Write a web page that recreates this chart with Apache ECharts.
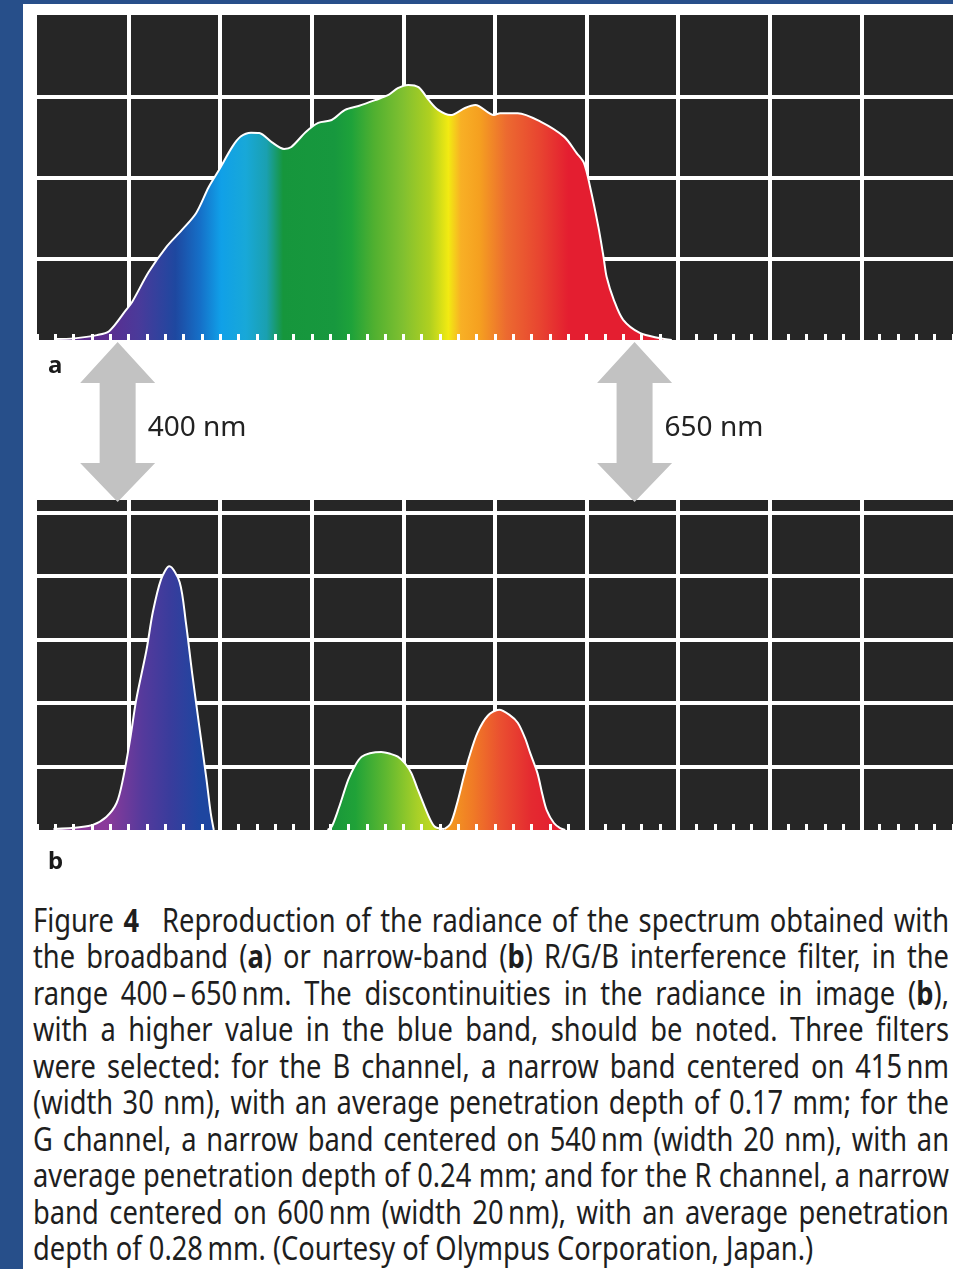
<!DOCTYPE html>
<html>
<head>
<meta charset="utf-8">
<script src="https://cdn.jsdelivr.net/npm/echarts@6/dist/echarts.min.js"></script>
<style>
html,body{margin:0;padding:0;width:953px;height:1269px;overflow:hidden;background:#274f8a;}
#paper{position:absolute;left:23px;top:4px;right:0;bottom:0;background:#fff;}
#chart{position:absolute;left:0;top:0;width:953px;height:890px;}
#caption{position:absolute;left:33px;top:902px;width:3000px;white-space:nowrap;font-family:'Noto Sans',sans-serif;font-size:32px;line-height:36.45px;color:#1e1e1e;transform-origin:0 0;}
#caption .ln{text-align:left;}
#caption.just .ln{text-align:justify;text-align-last:justify;}
#caption.just .ln.last{text-align-last:left;}
#caption b{font-weight:700;}
</style>
</head>
<body>
<div id="paper"></div>
<div id="chart"></div>
<div id="caption">
<div class="ln"><span>Figure <b>4</b>&ensp; Reproduction of the radiance of the spectrum obtained with</span></div>
<div class="ln"><span>the broadband (<b>a</b>) or narrow-band (<b>b</b>) R/G/B interference filter, in the</span></div>
<div class="ln"><span>range 400&#8201;–&#8201;650&#8201;nm. The discontinuities in the radiance in image (<b>b</b>),</span></div>
<div class="ln"><span>with a higher value in the blue band, should be noted. Three filters</span></div>
<div class="ln"><span>were selected: for the B channel, a narrow band centered on 415&#8201;nm</span></div>
<div class="ln"><span>(width 30 nm), with an average penetration depth of 0.17 mm; for the</span></div>
<div class="ln"><span>G channel, a narrow band centered on 540&#8201;nm (width 20 nm), with an</span></div>
<div class="ln"><span>average penetration depth of 0.24 mm; and for the R channel, a narrow</span></div>
<div class="ln"><span>band centered on 600&#8201;nm (width 20&#8201;nm), with an average penetration</span></div>
<div class="ln last"><span>depth of 0.28&#8201;mm. (Courtesy of Olympus Corporation, Japan.)</span></div>
</div>
<script>
// ---------- data ----------
// Panel a: broadband spectrum (wavelength nm, relative radiance)
const A_NM  = [369.5,379,390,396,404,407,415,423.5,431,438,444,449,455.5,459.5,464.5,468.5,474.5,480.5,484,491,497,503.5,510,516.5,524.5,531,535.5,540.5,545.5,550.5,555,561,568,573,582,585,593.5,604.5,616,622,625.5,628.5,632.5,635,636.5,640,644.5,652.5,662,668];
const A_VAL = [0.3,0.5,1.5,2.8,9.2,11.7,20.9,28.6,33.8,39.1,47,52.3,59.5,62.6,63.8,63.7,60.9,58.8,59.4,64,66.8,67.7,70.8,72,73.8,75.4,77.5,78.5,77.8,73.8,70.8,69.2,71.4,72.3,69.2,69.8,69.8,67.2,62.5,57.5,54.5,47.1,34.8,25.5,19.4,12.3,6.2,2.2,0.6,0];
// Panel b: narrow-band B / G / R
const B_NM  = [369,381.5,388,394.5,399.5,402.5,406,409,414,417,421,425,430,433,436,439.5,443,445,446.5];
const B_VAL = [0.3,0.9,1.6,4.1,8.5,15.8,28.4,41.1,56.9,68.6,79,83.1,78.1,65.4,49.6,32.6,15.8,5.4,0];
const G_NM  = [501.5,503.5,507,511.5,515,518,522,527.5,532,535.5,539,542,545,548.5,551,553.5,558];
const G_VAL = [0,1,7,15.8,20.5,23.1,24.2,24.6,24,23.1,21,18,13,7.3,3.5,1,0.3];
const R_NM  = [558,561,564,567.5,570,574,579,584.5,589.5,593.5,597,599.5,603,605.5,607.5,611,614,616.5];
const R_VAL = [0.3,2,8,17,23,30.6,36,37.9,36.3,33.8,29,24.3,18,11,6.3,2.2,0.6,0];
// Annotated wavelengths
const ARROW_NM = [400, 650];
const ARROW_LABELS = ['400 nm', '650 nm'];
const PANEL_LABELS = ['a', 'b'];

// ---------- colour palettes (style) ----------
const SPEC_PAL_NM  = [380,395,410,428,440,450,462,472,480,505,513,524,538,551,560,566,575,588,604,618,680];
const SPEC_PAL_COL = ['#5a2a8a','#5c2d90','#4a3a9a','#1e48a0','#1570c8','#10a0e8','#18a8d8','#1aa0b0','#16963c','#17983e','#1ea23a','#50b030','#80c030','#b0d020','#f2ea12','#f8b025','#f5a020','#ec6a30','#e84530','#e41e30','#e41e30'];
const BLUE_PAL_NM  = [395,412,425,440];
const BLUE_PAL_COL = ['#8a3a9a','#553a9c','#3a3c9c','#1e46a0'];
const GREEN_PAL_NM = [503,515,530,545,555];
const GREEN_PAL_COL= ['#18963a','#20a238','#60b830','#a8d028','#c8dc20'];
const RED_PAL_NM   = [560,572,585,600,612];
const RED_PAL_COL  = ['#f39a20','#f07a26','#ea5030','#e42a30','#e41e30'];

function hexToRgb(h){return [parseInt(h.slice(1,3),16),parseInt(h.slice(3,5),16),parseInt(h.slice(5,7),16)];}
function colorAt(nm, palNm, palCol){
  if (nm <= palNm[0]) return palCol[0];
  for (let i = 1; i < palNm.length; i++) {
    if (nm <= palNm[i]) {
      const t = (nm - palNm[i-1]) / (palNm[i] - palNm[i-1]);
      const a = hexToRgb(palCol[i-1]), b = hexToRgb(palCol[i]);
      return 'rgb(' + a.map((v,k)=>Math.round(v + (b[k]-v)*t)).join(',') + ')';
    }
  }
  return palCol[palCol.length-1];
}
function spectralFill(nmArr, palNm, palCol){
  const lo = nmArr[0], hi = nmArr[nmArr.length-1];
  const stops = [{offset:0, color: colorAt(lo, palNm, palCol)}];
  palNm.forEach((p,i)=>{ if (p > lo && p < hi) stops.push({offset:(p-lo)/(hi-lo), color: palCol[i]}); });
  stops.push({offset:1, color: colorAt(hi, palNm, palCol)});
  return new echarts.graphic.LinearGradient(0,0,1,0,stops);
}
function zip(x,y){return x.map((v,i)=>[v,y[i]]);}

const chart = echarts.init(document.getElementById('chart'), null, {renderer:'canvas'});

const gridOpts = [
  {left:37, top:15, width:921, height:325},
  {left:37, top:500, width:921, height:330}
];
const yMax = [100, 104], yInt = [25, 20];

const xAxes = [], yAxes = [];
gridOpts.forEach((g, gi) => {
  xAxes.push({gridIndex:gi, type:'value', min:361, max:804, show:false});
  xAxes.push({gridIndex:gi, type:'value', min:0, max:10, interval:1, position:'top', z:0,
    axisLine:{show:false}, axisTick:{show:false}, axisLabel:{show:false},
    splitLine:{show:true, showMinLine:false, showMaxLine:false, lineStyle:{color:'#ffffff', width:4}}});
  xAxes.push({gridIndex:gi, type:'value', min:0, max:10, interval:1, position:'bottom', z:5,
    axisLine:{show:false}, axisLabel:{show:false}, splitLine:{show:false},
    axisTick:{show:true, inside:true, length:6, lineStyle:{color:'#ffffff', width:3}},
    minorTick:{show:true, splitNumber:5, length:6, lineStyle:{color:'#ffffff', width:3}}});
  yAxes.push({gridIndex:gi, type:'value', min:0, max:yMax[gi], interval:yInt[gi], z:0,
    axisLine:{show:false}, axisTick:{show:false}, axisLabel:{show:false},
    splitLine:{show:true, showMinLine:false, showMaxLine:false, lineStyle:{color:'#ffffff', width:4}}});
});

function areaSeries(name, xi, yi, nm, val, fill){
  return {name, type:'line', xAxisIndex:xi, yAxisIndex:yi, data:zip(nm,val),
    smooth:0.3, symbol:'none', z:2,
    lineStyle:{color:'#ffffff', width:2},
    areaStyle:{color:fill, opacity:1}};
}

const option = {
  animation:false,
  backgroundColor:'transparent',
  grid: gridOpts.map(g => Object.assign({show:true, backgroundColor:'#262626', borderWidth:0}, g)),
  xAxis: xAxes,
  yAxis: yAxes,
  series: [
    areaSeries('broadband', 0, 0, A_NM, A_VAL, spectralFill(A_NM, SPEC_PAL_NM, SPEC_PAL_COL)),
    areaSeries('B', 3, 1, B_NM, B_VAL, spectralFill(B_NM, BLUE_PAL_NM, BLUE_PAL_COL)),
    areaSeries('G', 3, 1, G_NM, G_VAL, spectralFill(G_NM, GREEN_PAL_NM, GREEN_PAL_COL)),
    areaSeries('R', 3, 1, R_NM, R_VAL, spectralFill(R_NM, RED_PAL_NM, RED_PAL_COL))
  ]
};
chart.setOption(option);

// annotations: double arrows at the given wavelengths
const graphics = [];
ARROW_NM.forEach((nm, i) => {
  const cx = chart.convertToPixel({xAxisIndex:0}, nm);
  const t1 = 342, h1 = 383, h2 = 463, t2 = 502, hw = 37.5, sw = 18;
  graphics.push({type:'polygon', z:100, shape:{points:[
      [cx,t1],[cx+hw,h1],[cx+sw,h1],[cx+sw,h2],[cx+hw,h2],[cx,t2],[cx-hw,h2],[cx-sw,h2],[cx-sw,h1],[cx-hw,h1]]},
    style:{fill:'#c2c2c2'}});
  graphics.push({type:'text', z:101, x:cx+30, y:428,
    style:{text:ARROW_LABELS[i], fill:'#222222', font:'28px "Noto Sans", sans-serif', verticalAlign:'middle', align:'left'}});
});
graphics.push({type:'text', z:101, x:48, y:366, style:{text:PANEL_LABELS[0], fill:'#1a1a1a', font:'bold 24px "Noto Sans", sans-serif', verticalAlign:'middle', align:'left'}});
graphics.push({type:'text', z:101, x:48, y:862, style:{text:PANEL_LABELS[1], fill:'#1a1a1a', font:'bold 24px "Noto Sans", sans-serif', verticalAlign:'middle', align:'left'}});
chart.setOption({graphic: graphics});

// caption: condense and justify lines to the column width
(function(){
  const cap = document.getElementById('caption');
  const spans = cap.querySelectorAll('.ln > span');
  let maxW = 0;
  spans.forEach(s => { maxW = Math.max(maxW, s.getBoundingClientRect().width); });
  const target = 916;
  const w = Math.ceil(maxW) + 2;
  cap.style.width = w + 'px';
  cap.style.whiteSpace = 'normal';
  cap.classList.add('just');
  cap.style.transform = 'scaleX(' + (target / w) + ')';
})();
</script>
</body>
</html>
